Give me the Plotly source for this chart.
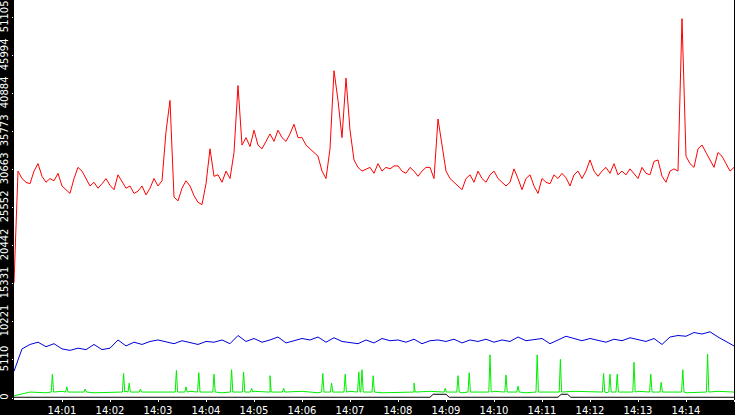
import plotly.graph_objects as go
from datetime import datetime, timedelta

base = datetime(2024, 1, 1, 14, 0, 0)

# red series, thousands, every 5 s from 14:00:00
red_k = [
 15.5, 30.5, 29.5, 29, 28.8, 30.5, 31.5, 29.8, 29, 29.5, 29.2, 30.2,
 28.5, 28, 27.5, 29.5, 31, 30.5, 29.5, 28.5, 29, 28.2, 28.8, 29.5,
 28.6, 28, 30, 29, 28.2, 28.5, 27.5, 27.8, 28.5, 27.3, 28.2, 29.5,
 28.5, 29.2, 35.8, 40, 27, 26.5, 28.2, 29.2, 28.5, 27.2, 26.3, 26,
 28.8, 33.5, 29.8, 30, 29, 30.5, 29.5, 33, 42, 34, 35, 33.8,
 36, 34, 33.5, 34.5, 35.5, 34.5, 36, 35, 34.5, 35.5, 36.8, 35,
 35, 34, 33.5, 33, 32.5, 30.5, 29.5, 33.5, 44, 40, 35, 43,
 36, 32, 31, 30.5, 30.8, 31, 30.2, 31.5, 30.5, 31, 30.8, 31.2,
 31.2, 30.5, 30.2, 31, 30.5, 29.8, 30.5, 31, 31, 29.5, 37.5, 34,
 30.5, 29.5, 29, 28.5, 28, 29.5, 30, 29, 30.5, 29.5, 29, 30,
 30.5, 29.5, 29, 28.5, 29, 30.8, 29.5, 28, 29.5, 30, 28.5, 27.5,
 29.5, 29, 28.8, 30, 29.5, 30.2, 29.6, 28.5, 30, 30.5, 29.5, 30.5,
 32, 30.5, 29.8, 30.5, 31, 30.2, 31.5, 30, 30.5, 30, 30.8, 30.2,
 29.5, 31, 30.2, 30, 31.8, 32, 29.8, 29, 30.5, 30.8, 30.5, 51,
 32.5, 31.5, 31, 33.5, 34, 33, 32, 31, 33, 32.5, 31.5, 30.5, 31,
]
# blue series, thousands, every 10 s
blue_k = [
 3.6, 6.6, 7.2, 7.5, 6.9, 7.3, 6.6, 6.4, 6.7, 6.5, 7.2, 6.5,
 6.7, 7.8, 7.0, 7.5, 7.2, 7.6, 7.8, 7.5, 7.3, 7.7, 7.4, 7.2,
 7.6, 7.5, 7.8, 7.3, 8.4, 7.6, 8.0, 7.5, 7.8, 8.2, 7.4, 7.7,
 8.0, 7.8, 8.2, 7.5, 8.1, 7.6, 7.5, 7.3, 7.8, 7.4, 8.0, 7.7,
 7.8, 7.5, 7.9, 7.3, 7.7, 7.8, 7.6, 7.9, 7.4, 7.8, 7.6, 7.9,
 7.5, 7.8, 7.6, 8.2, 7.7, 7.8, 8.0, 7.3, 7.8, 8.3, 8.0, 7.7,
 8.0, 7.8, 7.5, 7.9, 7.7, 8.1, 7.9, 7.6, 8.0, 7.2, 8.2, 8.4,
 8.3, 8.8, 8.6, 8.9, 8.2, 7.6, 7.0,
]
# green baseline, thousands, every 20 s
green_base_k = [0.3, 0.8, 0.7, 0.9, 0.8, 0.7, 0.8, 0.9, 0.8, 0.7, 0.8, 0.9,
 0.8, 0.7, 0.8, 0.9, 0.8, 0.8, 0.9, 0.7, 0.8, 0.9, 0.8, 0.7, 0.8, 0.8,
 0.9, 0.8, 0.7, 0.8, 0.9, 0.8, 0.7, 0.8, 0.8, 0.9, 0.8, 0.7, 0.8, 0.9,
 0.8, 0.8, 0.7, 0.8, 0.9, 0.8]
# green spikes: seconds after 14:00, thousands
spike_s = [48, 66, 89, 137, 144, 158, 203, 215, 231, 250, 272, 287, 297,
 320, 337, 386, 397, 414, 431, 435, 449, 500, 539, 555, 569, 595, 615,
 630, 654, 683, 737, 745, 754, 775, 796, 809, 836, 867]
spike_k = [3.2, 1.5, 1.2, 3.3, 2.0, 1.2, 3.7, 1.5, 3.4, 3.2, 3.8, 3.5, 1.3,
 3.0, 1.3, 3.3, 2.0, 3.2, 3.5, 3.8, 3.0, 2.0, 1.3, 3.0, 3.4, 5.8, 3.1,
 1.6, 5.8, 5.2, 3.3, 3.2, 3.2, 4.8, 3.2, 2.1, 3.8, 5.9]
# black series: seconds, thousands
black_s = [0, 520, 524, 540, 544, 680, 684, 692, 696, 900]
black_k = [0.1, 0.1, 0.5, 0.5, 0.1, 0.1, 0.5, 0.5, 0.1, 0.1]

yticks = [0, 5110, 10221, 15331, 20442, 25552, 30663, 35773, 40884, 45994, 51105]
xtick_labels = ["14:01", "14:02", "14:03", "14:04", "14:05", "14:06", "14:07",
                "14:08", "14:09", "14:10", "14:11", "14:12", "14:13", "14:14", "14:15"]

def t(s):
    return base + timedelta(seconds=s)

red_t = [t(5 * i) for i in range(len(red_k))]
blue_t = [t(10 * i) for i in range(len(blue_k))]
gpts = [(20 * i, v) for i, v in enumerate(green_base_k)]
for s, v in zip(spike_s, spike_k):
    gpts += [(s - 1.5, 0.8), (s, v), (s + 1.5, 0.8)]
gpts.sort()

fig = go.Figure()
fig.add_trace(go.Scatter(x=[t(s) for s, _ in gpts], y=[v * 1000 for _, v in gpts],
                         mode="lines", line=dict(color="#00ee00", width=1)))
fig.add_trace(go.Scatter(x=[t(s) for s in black_s], y=[v * 1000 for v in black_k],
                         mode="lines", line=dict(color="black", width=1)))
fig.add_trace(go.Scatter(x=blue_t, y=[v * 1000 for v in blue_k],
                         mode="lines", line=dict(color="#0000dd", width=1)))
fig.add_trace(go.Scatter(x=red_t, y=[v * 1000 for v in red_k],
                         mode="lines", line=dict(color="#ff0000", width=1)))

fig.update_layout(
    width=735, height=415, showlegend=False,
    margin=dict(l=14, r=1, t=0, b=17),
    paper_bgcolor="black", plot_bgcolor="white",
    font=dict(family="DejaVu Sans", size=10, color="white"),
    xaxis=dict(range=[t(0), t(900)], tickvals=[t(60 * (i + 1)) for i in range(15)],
               ticktext=xtick_labels, showgrid=False, zeroline=False,
               ticks="outside", ticklen=2, tickcolor="white", showline=True,
               linecolor="white", linewidth=2, tickangle=0, automargin=False,
               ticklabelstandoff=0),
    yaxis=dict(range=[0, 53500], tickvals=yticks, ticktext=[str(v) for v in yticks],
               tickangle=-90, showgrid=False, zeroline=False, ticks="outside",
               ticklen=1, tickcolor="white", ticklabelstandoff=0, automargin=False),
)
fig.write_html("out.html", config={"displayModeBar": False},
               post_script="document.body.style.margin='0';document.body.style.background='black';")
